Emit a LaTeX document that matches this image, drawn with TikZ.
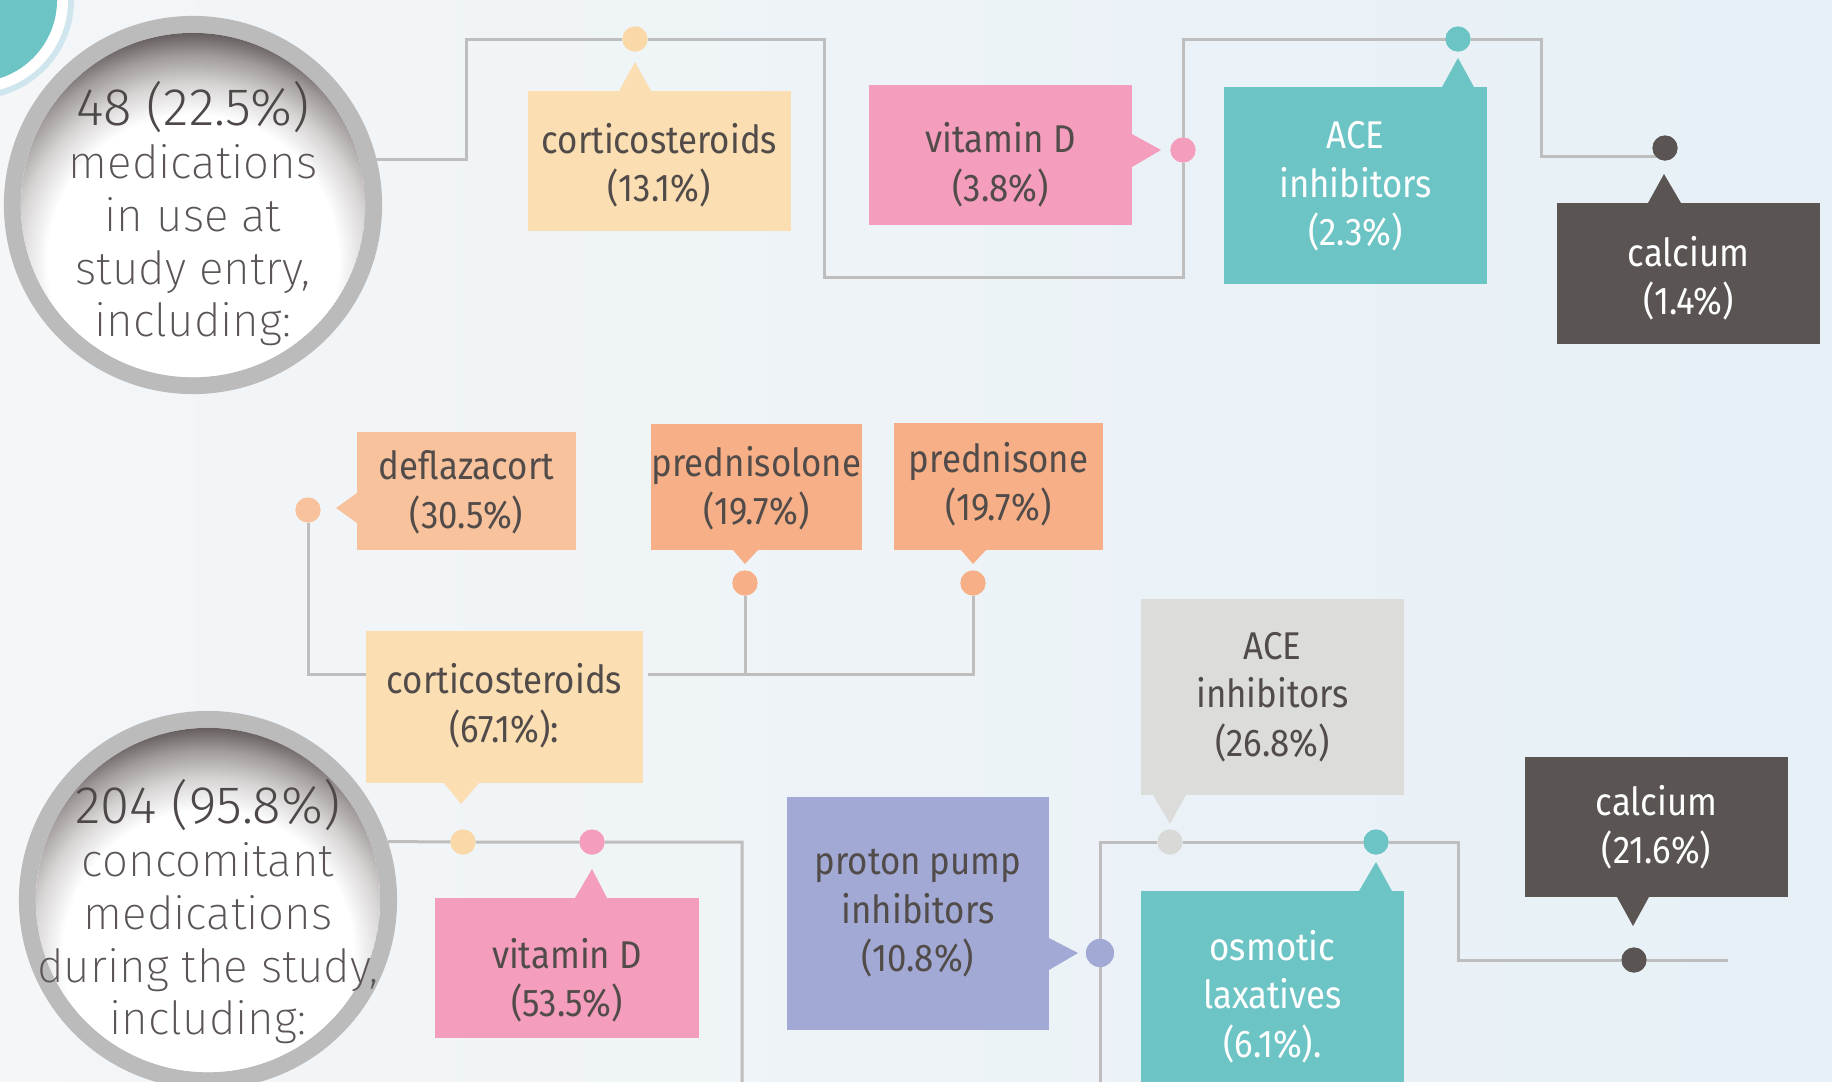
\documentclass[tikz,border=0pt]{standalone}
\usepackage{fontspec}
\setmainfont{Fira Sans}[FakeStretch=0.9]
\newfontfamily\thinfont{Fira Sans ExtraLight}
\newfontfamily\lightfont{Fira Sans Light}
\usetikzlibrary{calc}

\definecolor{bgleft}{HTML}{F4F6F8}
\definecolor{bgright}{HTML}{E6F0F6}
\definecolor{peach}{HTML}{FBDEB2}
\definecolor{peachdot}{HTML}{FBD8A8}
\definecolor{salmon}{HTML}{F8C29C}
\definecolor{salmondeep}{HTML}{F6AF87}
\definecolor{pink}{HTML}{F49DBD}
\definecolor{teal}{HTML}{6CC4C5}
\definecolor{darkbox}{HTML}{5A5553}
\definecolor{lav}{HTML}{A2A9D4}
\definecolor{lightbox}{HTML}{DCDCDB}
\definecolor{greydot}{HTML}{D9D9D7}
\definecolor{linegrey}{HTML}{BEBEBE}
\definecolor{ringgrey}{HTML}{BBBBBB}
\definecolor{txtdark}{HTML}{514B49}
\definecolor{txtthin}{HTML}{5A5454}
\definecolor{txtnum}{HTML}{4E4848}
\definecolor{lensmid}{HTML}{D6D3D3}
\definecolor{lensdeep}{HTML}{A29C9C}
\definecolor{lensdark}{HTML}{675F5F}
\definecolor{halo}{HTML}{B9DCE8}

% concave lens look of the summary discs: white centre, dark upper rim
\pgfdeclareradialshading{lens}{\pgfpointorigin}{%
  color(0bp)=(white); color(16bp)=(white); color(19.5bp)=(lensmid);
  color(22.5bp)=(lensdeep); color(25bp)=(lensdark); color(50bp)=(lensdark)}

\tikzset{
  boxlbl/.style={align=center, inner sep=0pt, font=\fontsize{11}{13.8}\selectfont},
  box/.style={inner sep=0pt, outer sep=0pt},
  dot/.style={circle, inner sep=0pt, outer sep=0pt, minimum size=0.25cm},
  conn/.style={draw=linegrey, line width=0.03cm},
  disc/.style={circle, fill=ringgrey, inner sep=0pt, outer sep=0pt, minimum size=3.78cm},
  disctext/.style={align=center, text=txtthin, inner sep=0pt,
    font=\thinfont\fontsize{13}{15}\selectfont},
}
% a coloured box whose caption (#1) sits in the middle, lowered by #6
\newcommand\medbox[6]{%
  \node[box, fill=#2, minimum width=#3, minimum height=#4,
    label={[boxlbl, text=#5, yshift=-#6]center:{#1}}]}
\newcommand\discnum[1]{{\lightfont\color{txtnum}\fontsize{15}{15}\selectfont #1}}

\begin{document}
\begin{tikzpicture}[x=0.01cm, y=-0.01cm]
\useasboundingbox (0,0) rectangle (1832,1081);
\clip (0,0) rectangle (1832,1081);

% background
\shade[left color=bgleft, right color=bgright] (0,0) rectangle (1832,1081);

% teal badge in the corner
\fill[halo, opacity=0.6] (-25,0) circle (0.99cm);
\fill[white] (-25,0) circle (0.93cm);
\fill[teal] (-25,0) circle (0.82cm);

% summary discs
\node[disc] (circ1) at (193,205) {};
\node[disc] (circ2) at (208,900) {};
\foreach \c in {circ1,circ2}{
  \begin{scope}
    \clip (\c.center) circle (1.72cm);
    \fill[white] (\c.center) circle (1.72cm);
    \shade[shading=lens] ($(\c.center)+(0,55)$) circle (2.27cm);
  \end{scope}
}

% dots
\node[dot, fill=peachdot]   (d1)  at (635,39) {};
\node[dot, fill=pink]       (d2)  at (1183,150) {};
\node[dot, fill=teal]       (d3)  at (1458,39) {};
\node[dot, fill=darkbox]    (d4)  at (1665,148) {};
\node[dot, fill=salmon]     (d5)  at (308,510) {};
\node[dot, fill=salmondeep] (d6)  at (745,583) {};
\node[dot, fill=salmondeep] (d7)  at (973,583) {};
\node[dot, fill=peachdot]   (d8)  at (463,842) {};
\node[dot, fill=pink]       (d9)  at (592,842) {};
\node[dot, fill=lav, minimum size=0.28cm] (d10) at (1100,953) {};
\node[dot, fill=greydot]    (d11) at (1170,842) {};
\node[dot, fill=teal]       (d12) at (1376,842) {};
\node[dot, fill=darkbox]    (d13) at (1634,960) {};

% corner points of the connector runs
\coordinate (t1) at (466,39);
\coordinate (t2) at (824,39);
\coordinate (t3) at (1183,277);
\coordinate (t4) at (1541,39);
\coordinate (t5) at (1665,156);

% connectors
\draw[conn] (circ1.14) -| (t1) -- (d1) -- (t2) |- (t3) -- (d2) -- (1183,39) -- (d3) -- (t4) |- (t5);
\draw[conn] (circ2.18) -- (d8) -- (d9) -- (742,842) -- (742,1100);
\draw[conn] (d5) |- (366,674);
\draw[conn] (648,674) -| (d7);
\draw[conn] (d6) -- (745,674);
\draw[conn] (1100,1100) -- (d10) -- (1100,842) -- (d11) -- (d12) -| (1458,960) -- (d13) -- (1728,960);

% dots over the lines
\foreach \d/\c in {d1/peachdot,d2/pink,d3/teal,d4/darkbox,d5/salmon,d6/salmondeep,d7/salmondeep,d8/peachdot,d9/pink,d11/greydot,d12/teal,d13/darkbox}
  \fill[\c] (\d.center) circle (0.125cm);
\fill[lav] (d10.center) circle (0.14cm);

% text of the discs
\node[disctext] (s1) at (193,214) {\discnum{48 (22.5\%)}\\medications\\in use at\\study entry,\\including:};
\node[disctext] (s2) at (208,912) {\discnum{204 (95.8\%)}\\concomitant\\medications\\during the study,\\including:};

% top row
\medbox{corticosteroids\\(13.1\%)}{peach}{2.63cm}{1.40cm}{txtdark}{1.2pt} (cort13) at (659.5,161) {};
\fill[peach] (619,91) -- (635,62) -- (651,91) -- cycle;

\medbox{vitamin D\\(3.8\%)}{pink}{2.63cm}{1.40cm}{txtdark}{2.8pt} (vitd3) at (1000.5,155) {};
\fill[pink] (1132,134) -- (1161,150) -- (1132,167) -- cycle;

\medbox{ACE\\inhibitors\\(2.3\%)}{teal}{2.63cm}{1.97cm}{white}{0.3pt} (ace2) at (1355.5,185.5) {};
\fill[teal] (1442,87) -- (1458,58) -- (1474,87) -- cycle;

\medbox{calcium\\(1.4\%)}{darkbox}{2.63cm}{1.41cm}{white}{1.3pt} (cal1) at (1688.5,273.5) {};
\fill[darkbox] (1648,203) -- (1664,174) -- (1681,203) -- cycle;

% corticosteroid breakdown
\medbox{deflazacort\\(30.5\%)}{salmon}{2.19cm}{1.18cm}{txtdark}{0.3pt} (defl) at (466.5,491) {};
\fill[salmon] (357,493) -- (336,508) -- (357,523) -- cycle;

\medbox{prednisolone\\(19.7\%)}{salmondeep}{2.11cm}{1.26cm}{txtdark}{0.3pt} (pnl) at (756.5,487) {};
\fill[salmondeep] (733,550) -- (745,564) -- (758,550) -- cycle;

\medbox{prednisone\\(19.7\%)}{salmondeep}{2.09cm}{1.27cm}{txtdark}{-0.7pt} (pne) at (998.5,486.5) {};
\fill[salmondeep] (961,550) -- (973,564) -- (986,550) -- cycle;

\medbox{corticosteroids\\(67.1\%):}{peach}{2.77cm}{1.52cm}{txtdark}{-0.3pt} (c67) at (504.5,707) {};
\fill[peach] (444,783) -- (461,804) -- (479,783) -- cycle;

% lower row
\medbox{vitamin D\\(53.5\%)}{pink}{2.64cm}{1.40cm}{txtdark}{3.5pt} (vd53) at (567,968) {};
\fill[pink] (575,898) -- (592,869) -- (607,898) -- cycle;

\medbox{proton pump\\inhibitors\\(10.8\%)}{lav}{2.62cm}{2.33cm}{txtdark}{0pt} (ppi) at (918,913.5) {};
\fill[lav] (1049,938) -- (1078,953) -- (1049,970) -- cycle;

\medbox{ACE\\inhibitors\\(26.8\%)}{lightbox}{2.63cm}{1.96cm}{txtdark}{0pt} (ace26) at (1272.5,697) {};
\fill[lightbox] (1153,795) -- (1170,824) -- (1186,795) -- cycle;

\medbox{osmotic\\laxatives\\(6.1\%).}{teal}{2.63cm}{1.97cm}{white}{2pt} (osm) at (1272.5,989.5) {};
\fill[teal] (1359,891) -- (1376,862) -- (1392,891) -- cycle;

\medbox{calcium\\(21.6\%)}{darkbox}{2.63cm}{1.40cm}{white}{0pt} (cal21) at (1656.5,827) {};
\fill[darkbox] (1617,897) -- (1633,926) -- (1649,897) -- cycle;

\end{tikzpicture}
\end{document}
